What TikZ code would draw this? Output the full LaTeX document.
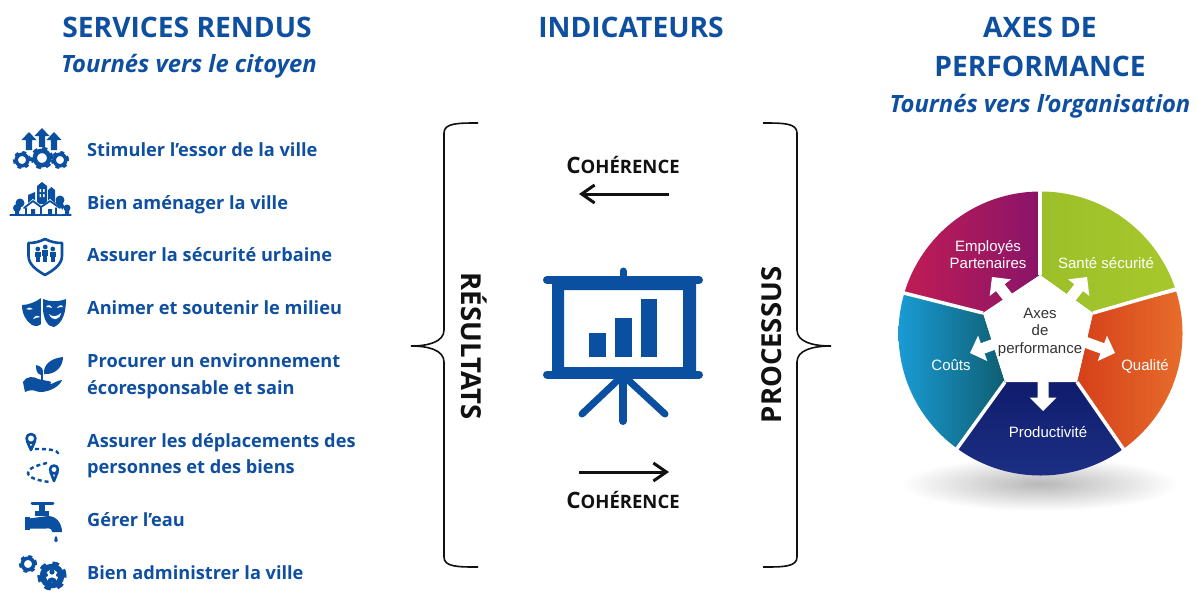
\documentclass[tikz,border=0pt]{standalone}
\usepackage{fontspec}
\setmainfont{Open Sans}
\newfontfamily\wheelfont{Liberation Sans}
\usetikzlibrary{arrows.meta}
\definecolor{bluetxt}{HTML}{0F4FA0}
\definecolor{iconblue}{HTML}{0B50A0}
\definecolor{ink}{HTML}{111111}
\definecolor{crimA}{HTML}{C81E52}
\definecolor{crimB}{HTML}{8A1468}
\definecolor{greenA}{HTML}{9CC02A}
\definecolor{greenB}{HTML}{A8C82C}
\definecolor{orangeA}{HTML}{D5401A}
\definecolor{orangeB}{HTML}{E8702C}
\definecolor{navyA}{HTML}{101C6C}
\definecolor{navyB}{HTML}{1E3288}
\definecolor{cyanA}{HTML}{1AA0DC}
\definecolor{cyanB}{HTML}{0F5E72}
\tikzset{
  x=1pt,y=-1pt,
  titletxt/.style={text=bluetxt,font=\fontsize{28.2}{28.2}\selectfont\bfseries,inner sep=0pt,anchor=base},
  subtxt/.style={text=bluetxt,font=\fontsize{23.8}{24}\selectfont\bfseries\itshape,inner sep=0pt,anchor=base},
  itemtxt/.style={text=bluetxt,font=\fontsize{18.2}{18.2}\selectfont\bfseries,inner sep=0pt,anchor=base west},
  cohtxt/.style={text=ink,font=\bfseries,inner sep=0pt,anchor=base},
  sidetxt/.style={text=ink,font=\fontsize{27.5}{27.5}\selectfont\bfseries,inner sep=0pt,anchor=base},
  bracepath/.style={draw=ink,line width=1.6pt},
  coharrow/.style={draw=ink,line width=3pt,-{Straight Barb[length=13pt,width=18pt,line width=3pt]}},
  iconline/.style={draw=iconblue,line cap=round,line join=round},
  boardline/.style={draw=iconblue,line width=8pt,line cap=round},
  wheeltxt/.style={text=white,font=\wheelfont\fontsize{15}{17}\selectfont,inner sep=0pt,align=center},
  gap/.style={draw=white,line width=3.5pt},
}
\newcommand{\gearicon}[3]{%
  \draw[iconblue,line width=#3*0.45pt] (#1,#2) circle[radius=#3*0.72pt];
  \draw[iconblue,line width=#3*0.3pt,dash pattern=on #3*0.5pt off #3*0.5pt] (#1,#2) circle[radius=#3*0.98pt];}
\newcommand{\uparrowicon}[3]{%
  \fill[iconblue] (#1,#2) -- (#1+7.5,#2+8) -- (#1+3.2,#2+8) -- (#1+3.2,#3) -- (#1-3.2,#3) -- (#1-3.2,#2+8) -- (#1-7.5,#2+8) -- cycle;}
\newcommand{\wheelarrow}[3]{%
  \begin{scope}[shift={(#1,#2)},rotate=#3]
    \fill[white] (0,0) -- (-13.500,-13.500) -- (-13.500,-5.500) -- (-34,-5.500) -- (-34,5.500) -- (-13.500,5.500) -- (-13.500,13.500) -- cycle;
  \end{scope}}
\newcommand{\personicon}[4]{%
  \fill[#4] (#1,#2) circle[radius=2.4pt];
  \fill[#4] (#1-3.1,#2+3) rectangle (#1+3.1,#2+#3*0.6);
  \fill[#4] (#1-2,#2+#3*0.6) rectangle (#1+2,#2+#3);}
\begin{document}
\begin{tikzpicture}
\useasboundingbox (0,0) rectangle (1198,595);
\fill[white] (0,0) rectangle (1198,595);

% ---- titles
\node[titletxt] (t1) at (187,37) {SERVICES RENDUS};
\node[subtxt] (s1) at (189,72) {Tournés vers le citoyen};
\node[titletxt] (t2) at (631,37) {INDICATEURS};
\node[titletxt] (t3a) at (1040,37) {AXES DE};
\node[titletxt] (t3b) at (1040,76) {PERFORMANCE};
\node[subtxt] (s3) at (1040,112) {Tournés vers l’organisation};

% ---- items
\node[itemtxt] (i1) at (87,156.500) {Stimuler l’essor de la ville};
\node[itemtxt] (i2) at (87,209.500) {Bien aménager la ville};
\node[itemtxt] (i3) at (87,261.500) {Assurer la sécurité urbaine};
\node[itemtxt] (i4) at (87,314.500) {Animer et soutenir le milieu};
\node[itemtxt] (i5a) at (87,367.500) {Procurer un environnement};
\node[itemtxt] (i5b) at (87,394.500) {écoresponsable et sain};
\node[itemtxt] (i6a) at (87,447.500) {Assurer les déplacements des};
\node[itemtxt] (i6b) at (87,473.500) {personnes et des biens};
\node[itemtxt] (i7) at (87,526.500) {Gérer l’eau};
\node[itemtxt] (i8) at (87,579.500) {Bien administrer la ville};

% ---- icon 1 gears and arrows
\gearicon{22}{160}{8}
\gearicon{42}{158}{10}
\gearicon{60}{160}{8}
\uparrowicon{42}{128}{147}
\uparrowicon{29}{132}{150}
\uparrowicon{54}{132}{150}

% ---- icon 2 village
\draw[iconline,line width=1.2pt] (10,215) -- (71,215);
\fill[iconblue] (37,186) -- (42,182) -- (47,186) -- (47,204) -- (37,204) -- cycle;
\fill[iconblue] (28,195) -- (35,192) -- (35,204) -- (28,204) -- cycle;
\fill[iconblue] (48,190) -- (51.500,187) -- (55,190) -- (55,204) -- (48,204) -- cycle;
\fill[white] (39.500,189) rectangle (41,192) (43,189) rectangle (44.500,192) (39.500,194) rectangle (41,197) (43,194) rectangle (44.500,197);
\fill[iconblue] (20,203) circle[radius=4.5pt] (17,208) circle[radius=4pt] (60,200) circle[radius=4.5pt] (59,206) circle[radius=5pt] (67,208) circle[radius=3.5pt];
\fill[iconblue] (15,208) rectangle (19,215) (57,206) rectangle (61,215) (65,209) rectangle (69,215);
\fill[white] (21,209) -- (33,199) -- (42,206) -- (50,199) -- (62,209) -- (62,214) -- (21,214) -- cycle;
\draw[iconline,line width=1.8pt] (24,208) -- (33,201) -- (41,207) (41,207) -- (50,201) -- (60,208);
\draw[iconline,line width=1.4pt] (26,208) -- (26,215) -- (56,215) -- (56,208) (41,207) -- (41,215);
\fill[iconblue] (31,209) rectangle (35,215) (48,209) rectangle (52,215);

% ---- icon 3 shield
\draw[iconline,line width=2.6pt] (45,239) .. controls (39,242) and (34,243) .. (28.500,243) -- (28.500,256) .. controls (28.500,265) and (38,271) .. (45,275) .. controls (52,271) and (62,265) .. (62,256) -- (62,243) .. controls (56,243) and (51,242) .. (45,239) -- cycle;
\personicon{37.800}{249}{13}{iconblue}
\personicon{45.300}{247}{15}{iconblue}
\personicon{52.800}{249}{13}{iconblue}

% ---- icon 4 masks
\fill[iconblue] (22,305) .. controls (28,305) and (36,302) .. (41,298) -- (43,322) .. controls (40,326) and (36,327) .. (32,325) .. controls (26,321) and (22,314) .. (22,305) -- cycle;
\fill[white] (41,297) -- (66,295) -- (66,330) -- (41,330) -- cycle;
\fill[iconblue] (43,299) .. controls (50,302) and (58,302) .. (66,299) .. controls (66,312) and (63,323) .. (54,327) .. controls (48,327) and (44,320) .. (43,310) -- cycle;
\fill[white] (46,307) .. controls (48,304) and (51,305) .. (52,308) .. controls (50,307) and (48,307) .. (46,307) -- cycle;
\fill[white] (57,308) .. controls (59,305) and (62,304) .. (63,307) .. controls (61,307) and (59,307) .. (57,308) -- cycle;
\fill[white] (49,314) .. controls (52,317) and (57,317) .. (61,313) .. controls (60,320) and (52,322) .. (49,314) -- cycle;
\fill[white] (26,309) .. controls (28,307) and (31,307) .. (33,309) .. controls (31,310) and (28,310) .. (26,309) -- cycle;
\fill[white] (33,319) .. controls (35,315) and (38,315) .. (40,317) .. controls (38,317) and (36,318) .. (33,319) -- cycle;

% ---- icon 5 hand and plant
\fill[iconblue] (44,374) .. controls (43,364) and (52,358) .. (63,357) .. controls (63,367) and (55,375) .. (44,374) -- cycle;
\fill[iconblue] (41,375) .. controls (36,374) and (36,368) .. (36,365) .. controls (41,366) and (46,370) .. (41,375) -- cycle;
\draw[iconline,line width=1.2pt] (42,380) -- (42,372);
\fill[iconblue] (23,382) .. controls (26,376) and (34,376) .. (38,379) -- (48,381) .. controls (52,381) and (52,384) .. (48,385) .. controls (53,384) and (58,380) .. (62,380) .. controls (60,386) and (50,392) .. (40,392) .. controls (36,392) and (33,388) .. (25,392) -- cycle;

% ---- icon 6 route
\draw[iconline,line width=2.6pt] (31,438.500) circle[radius=4.5pt];
\draw[iconline,line width=2.6pt] (27,441) -- (31,450) -- (35,441);
\draw[iconline,line width=2.4pt,dash pattern=on 4pt off 3pt,line cap=butt] (35,449) .. controls (45,449) and (60,449) .. (58,455);
\draw[iconline,line width=2.4pt,dash pattern=on 4pt off 3pt,line cap=butt] (47,463) .. controls (38,465) and (28,468) .. (28,473) .. controls (28,478) and (40,481) .. (50,482);
\draw[iconline,line width=2.6pt] (54,469.500) circle[radius=4pt];
\draw[iconline,line width=2.6pt] (50.500,472) -- (54,481) -- (57.500,472);

% ---- icon 7 tap
\draw[iconline,line width=3pt] (32,503) -- (53,503);
\fill[iconblue] (39,503) rectangle (45,515);
\fill[iconblue] (35,511) rectangle (49,516);
\fill[iconblue] (25,517) rectangle (29.500,530);
\fill[iconblue] (29,518.500) -- (48,516) .. controls (57,516) and (62,524) .. (62,532) -- (52,532) .. controls (52,529) and (50,528) .. (46,528.500) -- (29,528.500) -- cycle;
\fill[iconblue] (56,535.500) .. controls (54,539) and (53.500,542) .. (56,542) .. controls (58.500,542) and (58,539) .. (56,535.500) -- cycle;

% ---- icon 8 admin gears
\gearicon{28}{564}{8}
\gearicon{52}{576}{13}
\fill[iconblue] (52,572) circle[radius=2.6pt] (46,575) circle[radius=2pt] (58,575) circle[radius=2pt];
\fill[iconblue] (47,582) .. controls (47,576) and (57,576) .. (57,582) -- cycle;
\fill[iconblue] (43,580) .. controls (43,577) and (47,577) .. (47,580) -- cycle (57,580) .. controls (57,577) and (61,577) .. (61,580) -- cycle;

% ---- braces
\coordinate (lbtop) at (478,123);
\coordinate (lbtip) at (411,346);
\coordinate (lbbot) at (478,567);
\coordinate (rbtop) at (763,123);
\coordinate (rbtip) at (831,346);
\coordinate (rbbot) at (763,567);
\draw[bracepath] (lbtop) .. controls (458,123) and (444,123) .. (444,133) -- (444,330) .. controls (444,342) and (428,346) .. (lbtip) .. controls (428,346) and (444,350) .. (444,362) -- (444,557) .. controls (444,567) and (458,567) .. (lbbot);
\draw[bracepath] (rbtop) .. controls (783,123) and (797,123) .. (797,133) -- (797,330) .. controls (797,342) and (813,346) .. (rbtip) .. controls (813,346) and (797,350) .. (797,362) -- (797,557) .. controls (797,567) and (783,567) .. (rbbot);
\node[sidetxt,rotate=-90] (res) at (461,346) {RÉSULTATS};
\node[sidetxt,rotate=90] (pro) at (781,345) {PROCESSUS};

% ---- coherence
\node[cohtxt] (c1) at (623,173) {{\fontsize{22.5}{22.5}\selectfont C}{\fontsize{18.5}{18.5}\selectfont OHÉRENCE}};
\node[cohtxt] (c2) at (623,508) {{\fontsize{22.5}{22.5}\selectfont C}{\fontsize{18.5}{18.5}\selectfont OHÉRENCE}};
\coordinate (a1s) at (669,194);
\coordinate (a1e) at (579,194);
\coordinate (a2s) at (579,472);
\coordinate (a2e) at (669,472);
\draw[coharrow] (a1s) -- (a1e);
\draw[coharrow] (a2s) -- (a2e);

% ---- presentation board
\fill[iconblue,even odd rule] (552,280) rectangle (696,375) (564,290) rectangle (683,367);
\draw[boardline] (547,280) -- (699,280);
\draw[boardline] (547,374.500) -- (699,374.500);
\draw[iconline,line width=7pt] (623,271) -- (623,280);
\draw[iconline,line width=8pt] (623,378) -- (623,421);
\draw[iconline,line width=7pt] (620,378) -- (582,414);
\draw[iconline,line width=7pt] (626,378) -- (665,414);
\fill[iconblue] (589,333) rectangle (606,357);
\fill[iconblue] (615,318) rectangle (632,357);
\fill[iconblue] (641,299) rectangle (657,357);

% ---- wheel
\shade[inner color=black!28,outer color=white] (1040,484) ellipse[x radius=138pt,y radius=27pt];
\begin{scope}
  \clip (1040.500,333.500) circle[radius=142pt];
  \shade[left color=crimA,right color=crimB] (1040,275) -- (1040,180) -- (880,180) -- (880,293) -- (903,293) -- (983,313) -- cycle;
  \shade[left color=greenA,right color=greenB] (1040,275) -- (1040,180) -- (1190,180) -- (1190,288) -- (1173,290) -- (1093,313) -- cycle;
  \shade[left color=orangeA,right color=orangeB] (1093,313) -- (1190,288) -- (1190,480) -- (1122,447) -- (1077,382) -- cycle;
  \shade[top color=navyA,bottom color=navyB] (1077,382) -- (1122,447) -- (1130,490) -- (950,490) -- (958,447) -- (1005,382) -- cycle;
  \shade[left color=cyanA,right color=cyanB] (1005,382) -- (958,447) -- (940,490) -- (890,490) -- (890,293) -- (903,293) -- (983,313) -- cycle;
\end{scope}
\coordinate (vt) at (1040,275);
\coordinate (vr) at (1093,313);
\coordinate (vlr) at (1077,382);
\coordinate (vll) at (1005,382);
\coordinate (vl) at (983,313);
\fill[white] (vt) -- (vr) -- (vlr) -- (vll) -- (vl) -- cycle;
\draw[gap] (vt) -- (1040,188);
\draw[gap] (vr) -- (1176,289);
\draw[gap] (vlr) -- (1124,450);
\draw[gap] (vll) -- (956,450);
\draw[gap] (vl) -- (900,292);
\wheelarrow{992}{277}{128}
\wheelarrow{1087}{277}{52}
\wheelarrow{1115}{353}{-20}
\wheelarrow{970}{353}{200}
\wheelarrow{1043}{411}{-90}
\node[wheeltxt] (w1) at (988,255) {Employés\\Partenaires};
\node[wheeltxt] (w2) at (1106,263) {Santé sécurité};
\node[wheeltxt] (w3) at (1145,366) {Qualité};
\node[wheeltxt] (w4) at (951,365) {Coûts};
\node[wheeltxt] (w5) at (1048,432) {Productivité};
\node[wheeltxt,text=black!80,font=\wheelfont\fontsize{15}{17.500}\selectfont] (w6) at (1040,332) {Axes\\de\\performance};
\end{tikzpicture}
\end{document}
